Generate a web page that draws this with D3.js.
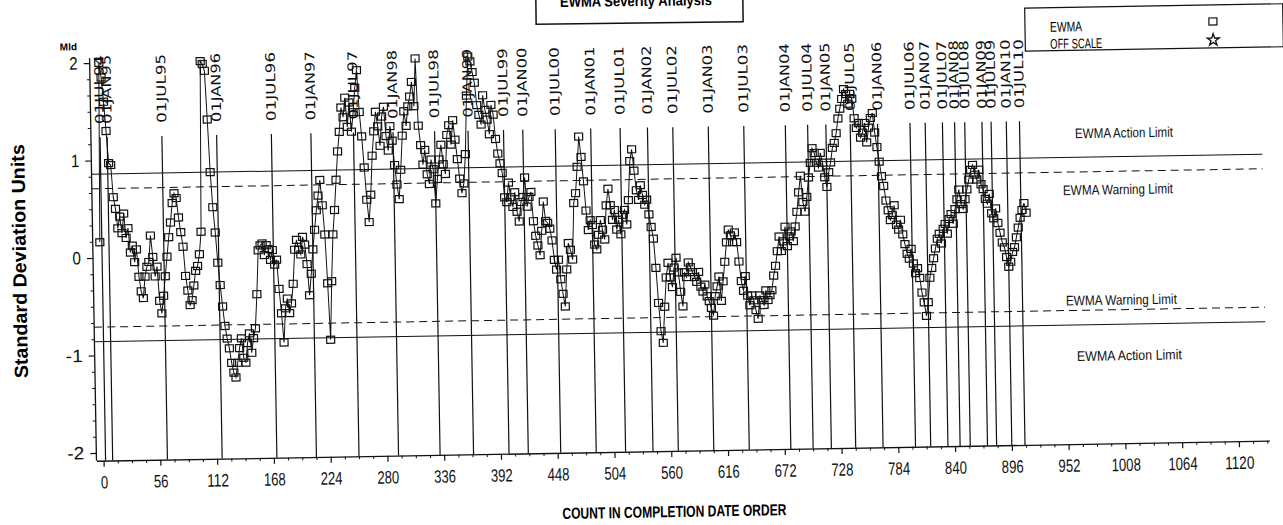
<!DOCTYPE html>
<html><head><meta charset="utf-8">
<script src="https://cdn.jsdelivr.net/npm/d3@7"></script>
<style>body{margin:0;background:#fff}svg{display:block}</style>
</head><body>
<svg id="c" width="1283" height="525"></svg>
<script>
// ---- data ----
const countStep = 2; // EWMA value read every 2nd count in completion order
const ewmaValues = [
 0.16, 2.0, 1.85, 1.6, 1.3, 0.97, 0.95, 0.62, 0.5, 0.3,
 0.42, 0.25, 0.45, 0.2, 0.3, 0.05, 0.12, -0.05, 0.08, -0.2,
 -0.35, -0.42, -0.2, -0.1, -0.05, 0.22, 0.0, -0.2, -0.1, -0.45,
 -0.58, -0.4, -0.2, 0.0, 0.2, 0.35, 0.55, 0.65, 0.6, 0.4,
 0.25, 0.1, -0.2, -0.35, -0.5, -0.45, -0.3, -0.15, -0.1, 0.02,
 0.25, 2.0, 1.97, 1.9, 1.4, 0.86, 0.5, 0.24, -0.07, -0.3,
 -0.52, -0.72, -0.85, -0.95, -1.1, -1.2, -1.25, -1.1, -0.95, -0.85,
 -1.05, -1.1, -0.9, -0.8, -1.0, -0.85, -0.75, -0.4, 0.05, 0.1,
 0.12, 0.0, 0.1, 0.06, -0.05, 0.05, -0.1, -0.05, -0.35, -0.6,
 -0.9, -0.55, -0.45, -0.6, -0.5, -0.3, 0.05, 0.15, 0.05, 0.0,
 0.18, 0.1, -0.1, -0.42, -0.2, 0.05, 0.25, 0.45, 0.6, 0.76,
 0.5, 0.2, -0.3, -0.88, -0.28, 0.2, 0.45, 0.76, 1.05, 1.25,
 1.5, 1.4, 1.6, 1.3, 1.55, 1.25, 1.45, 1.7, 1.88, 1.45,
 1.2, 0.88, 0.55, 0.32, 0.6, 1.0, 1.25, 1.45, 1.3, 1.1,
 1.4, 1.5, 1.2, 1.05, 1.3, 1.15, 0.9, 0.7, 0.55, 0.85,
 1.2, 1.45, 1.3, 1.5, 1.6, 1.75, 1.5, 1.99, 1.3, 1.1,
 0.9, 1.05, 0.8, 0.7, 0.95, 0.85, 0.5, 0.75, 0.95, 1.1,
 0.9, 0.8, 1.2, 1.3, 1.1, 1.35, 1.15, 0.95, 0.75, 0.6,
 0.7, 1.0, 1.6, 2.0, 1.95, 1.84, 1.73, 1.5, 1.4, 1.3,
 1.6, 1.45, 1.35, 1.2, 1.5, 1.4, 1.15, 1.0, 0.9, 0.8,
 0.55, 0.5, 0.7, 0.55, 0.45, 0.6, 0.4, 0.3, 0.5, 0.55,
 0.75, 0.45, 0.55, 0.6, 0.3, 0.15, 0.05, -0.05, 0.2, 0.5,
 0.3, 0.28, 0.22, 0.1, -0.1, -0.2, -0.1, -0.3, -0.45, -0.58,
 -0.2, 0.07, 0.0, -0.1, 0.48, 0.58, 0.85, 1.16, 0.95, 0.7,
 0.4, 0.2, 0.3, 0.25, 0.05, 0.0, 0.15, 0.3, 0.2, 0.1,
 0.45, 0.62, 0.45, 0.3, 0.4, 0.2, 0.3, 0.15, 0.35, 0.4,
 0.25, 0.5, 0.9, 1.02, 0.8, 0.6, 0.5, 0.65, 0.55, 0.45,
 0.5, 0.35, 0.22, 0.1, -0.2, -0.56, -0.85, -0.97, -0.6, -0.3,
 -0.15, -0.3, -0.4, -0.2, -0.1, -0.25, -0.45, -0.6, -0.25, -0.3,
 -0.15, -0.2, -0.25, -0.3, -0.35, -0.25, -0.4, -0.45, -0.38, -0.5,
 -0.55, -0.62, -0.7, -0.5, -0.4, -0.3, -0.55, -0.35, -0.15, 0.05,
 0.18, 0.12, 0.05, 0.15, 0.05, -0.15, -0.35, -0.45, -0.3, -0.5,
 -0.6, -0.5, -0.55, -0.65, -0.74, -0.5, -0.55, -0.6, -0.45, -0.55,
 -0.5, -0.45, -0.3, -0.2, -0.05, 0.1, -0.05, 0.05, 0.2, 0.0,
 0.1, 0.15, 0.05, 0.2, 0.35, 0.55, 0.72, 0.45, 0.35, 0.5,
 0.7, 0.85, 1.0, 0.95, 0.85, 0.8, 0.95, 0.85, 0.7, 0.6,
 0.75, 0.85, 1.0, 1.05, 1.15, 1.3, 1.4, 1.5, 1.6, 1.55,
 1.45, 1.55, 1.5, 1.3, 1.2, 1.25, 1.1, 1.15, 1.25, 1.05,
 1.2, 1.3, 1.35, 1.15, 1.0, 0.85, 0.7, 0.6, 0.45, 0.35,
 0.25, 0.3, 0.4, 0.2, 0.15, 0.25, 0.1, 0.0, -0.1, -0.15,
 -0.05, -0.2, -0.3, -0.25, -0.35, -0.5, -0.6, -0.74, -0.6, -0.35,
 -0.25, -0.15, -0.05, 0.05, 0.1, 0.0, 0.15, 0.2, 0.1, 0.25,
 0.3, 0.2, 0.35, 0.45, 0.55, 0.4, 0.35, 0.45, 0.55, 0.65,
 0.75, 0.8, 0.7, 0.65, 0.75, 0.6, 0.55, 0.45, 0.4, 0.5,
 0.3, 0.25, 0.35, 0.2, 0.1, 0.0, -0.05, -0.15, -0.25, -0.2,
 -0.1, -0.05, 0.05, 0.15, 0.25, 0.33, 0.4, 0.3
];
const dateLabels = ["01JUL94","01JAN95","01JUL95","01JAN96","01JUL96","01JAN97","01JUL97","01JAN98","01JUL98","01JAN99",
 "01JUL99","01JAN00","01JUL00","01JAN01","01JUL01","01JAN02","01JUL02","01JAN03","01JUL03","01JAN04",
 "01JUL04","01JAN05","01JUL05","01JAN06","01JUL06","01JAN07","01JUL07","01JAN08","01JUL08","01JAN09",
 "01JUL09","01JAN10","01JUL10"];
const dateCounts = [2, 9, 63, 117, 171, 210, 252, 291, 332, 365,
 400, 419, 451, 486, 515, 542, 567, 602, 637, 678,
 700, 718, 742, 769, 801, 816, 833, 845, 855, 872,
 881, 896, 909];
const xTicks = [0,56,112,168,224,280,336,392,448,504,560,616,672,728,784,840,896,952,1008,1064,1120];
const yTicks = [-2,-1,0,1,2];
const actionLimit = 0.86;
const warningLimit = 0.71;
const limitLabels = ["EWMA Action Limit","EWMA Warning Limit","EWMA Warning Limit","EWMA Action Limit"];
const legendLabels = ["EWMA","OFF SCALE"];
const titleText = "EWMA Severity Analysis";

// ---- drawing ----
const svg = d3.select("#c");
const x = d3.scaleLinear().domain([-7, 1150]).range([93, 1266]);
const y = d3.scaleLinear().domain([-2, 2]).range([453, 63]);
const yBottom = y(-2.08);
const FONT = "'Liberation Sans', Arial, sans-serif";

const g = svg.append("g").attr("transform", "rotate(-0.98 93 258)");

// limit lines
const limits = [
  {v: actionLimit, dash: null, lab: limitLabels[0], lx: 1077, dy: -19, w: 98},
  {v: warningLimit, dash: "8,5", lab: limitLabels[1], lx: 1064, dy: 23, w: 110},
  {v: -warningLimit, dash: "8,5", lab: limitLabels[2], lx: 1065, dy: -5, w: 111},
  {v: -actionLimit, dash: null, lab: limitLabels[3], lx: 1075, dy: 36, w: 105}
];
limits.forEach(l => {
  g.append("line").attr("x1", x(-7)).attr("x2", x(1148)).attr("y1", y(l.v)).attr("y2", y(l.v))
    .attr("stroke", "#111").attr("stroke-width", 1).attr("stroke-dasharray", l.dash);
  g.append("text").attr("x", l.lx).attr("y", y(l.v) + l.dy).text(l.lab)
    .attr("font-family", FONT).attr("font-size", 14).attr("textLength", l.w)
    .attr("lengthAdjust", "spacingAndGlyphs").attr("fill", "#111");
});

// date reference lines
const lineTop = y(1.24);
dateCounts.forEach((c, i) => {
  g.append("line").attr("x1", x(c)).attr("x2", x(c)).attr("y1", lineTop).attr("y2", yBottom)
    .attr("stroke", "#111").attr("stroke-width", 1.2);
  g.append("text").attr("transform", `translate(${x(c)},${lineTop - 13}) rotate(-90)`)
    .attr("text-anchor", "start").attr("dy", "0.36em").text(dateLabels[i])
    .attr("font-family", "'DejaVu Sans', sans-serif").attr("font-size", 13)
    .attr("textLength", 69).attr("lengthAdjust", "spacingAndGlyphs").attr("fill", "#111");
});

// axes
const xAxis = g.append("g").attr("transform", `translate(0,${yBottom})`)
  .call(d3.axisBottom(x).tickValues(xTicks).tickSize(6).tickSizeOuter(0).tickPadding(9).tickFormat(d => String(d)));
xAxis.select(".domain").attr("stroke", "#111").attr("stroke-width", 1.3);
xAxis.selectAll(".tick line").attr("stroke", "#111").attr("stroke-width", 1.2);
xAxis.selectAll("text").attr("font-family", FONT).attr("font-size", 18).attr("fill", "#111")
  .attr("textLength", d => String(d).length * 7.3).attr("lengthAdjust", "spacingAndGlyphs");
const xMinor = d3.range(0, 1149, 14).filter(v => v % 56 !== 0);
const xm = g.append("g").attr("transform", `translate(0,${yBottom})`)
  .call(d3.axisBottom(x).tickValues(xMinor).tickSize(3).tickFormat(""));
xm.select(".domain").remove();
xm.selectAll(".tick line").attr("stroke", "#111");

const yAxis = g.append("g").attr("transform", `translate(${x(-7)},0)`)
  .call(d3.axisLeft(y).tickValues(yTicks).tickSize(6).tickSizeOuter(0).tickPadding(6).tickFormat(d => String(d)));
yAxis.select(".domain").remove();
yAxis.selectAll(".tick line").attr("stroke", "#111").attr("stroke-width", 1.2);
yAxis.selectAll("text").attr("font-family", FONT).attr("font-size", 18).attr("fill", "#111")
  .attr("textLength", d => String(d).length * 8.5).attr("lengthAdjust", "spacingAndGlyphs");
const yMinor = d3.range(-12, 13).filter(k => k % 6 !== 0).map(k => k / 6);
const ym = g.append("g").attr("transform", `translate(${x(-7)},0)`)
  .call(d3.axisLeft(y).tickValues(yMinor).tickSize(3).tickFormat(""));
ym.select(".domain").remove();
ym.selectAll(".tick line").attr("stroke", "#111");
g.append("line").attr("x1", x(-7)).attr("x2", x(-7)).attr("y1", y(2.05)).attr("y2", yBottom)
  .attr("stroke", "#111").attr("stroke-width", 1.3);

// axis titles
g.append("text").attr("x", 72).attr("y", 50).text("Mld").attr("font-family", FONT)
  .attr("font-weight", "bold").attr("font-size", 10).attr("text-anchor", "middle");
g.append("text").attr("transform", "translate(26,260) rotate(-90)").attr("text-anchor", "middle")
  .text("Standard Deviation Units").attr("font-family", FONT).attr("font-weight", "bold")
  .attr("font-size", 19).attr("textLength", 234).attr("lengthAdjust", "spacingAndGlyphs");
g.append("text").attr("x", 670).attr("y", 527).attr("text-anchor", "middle")
  .text("COUNT IN COMPLETION DATE ORDER").attr("font-family", FONT).attr("font-weight", "bold")
  .attr("font-size", 16).attr("textLength", 224).attr("lengthAdjust", "spacingAndGlyphs");

// series
const pts = ewmaValues.map((v, i) => ({c: i * countStep, v}));
g.append("path").datum(pts).attr("fill", "none").attr("stroke", "#111").attr("stroke-width", 1)
  .attr("d", d3.line().x(d => x(d.c)).y(d => y(d.v)));
g.selectAll("rect.pt").data(pts).join("rect").attr("class", "pt")
  .attr("x", d => x(d.c) - 4).attr("y", d => y(d.v) - 3.5).attr("width", 8).attr("height", 7)
  .attr("fill", "none").attr("stroke", "#111").attr("stroke-width", 1.2);

// title box (cut at top)
const tg = svg.append("g").attr("transform", "rotate(-0.7 640 12)");
tg.append("rect").attr("x", 536).attr("y", -20).attr("width", 207).attr("height", 43)
  .attr("fill", "none").attr("stroke", "#111").attr("stroke-width", 1.5);
tg.append("text").attr("x", 636).attr("y", 6).attr("text-anchor", "middle").text(titleText)
  .attr("font-family", FONT).attr("font-weight", "bold").attr("font-size", 15)
  .attr("textLength", 152).attr("lengthAdjust", "spacingAndGlyphs");

// legend
const lg = svg.append("g").attr("transform", "rotate(-0.98 1152 27)");
lg.append("rect").attr("x", 1025).attr("y", 6).attr("width", 258).attr("height", 43)
  .attr("fill", "#fff").attr("stroke", "#111").attr("stroke-width", 1.2);
lg.append("text").attr("x", 1050).attr("y", 30).text(legendLabels[0]).attr("font-family", FONT)
  .attr("font-size", 14).attr("textLength", 32).attr("lengthAdjust", "spacingAndGlyphs");
lg.append("text").attr("x", 1050).attr("y", 47).text(legendLabels[1]).attr("font-family", FONT)
  .attr("font-size", 14).attr("textLength", 52).attr("lengthAdjust", "spacingAndGlyphs");
lg.append("rect").attr("x", 1209).attr("y", 19).attr("width", 8).attr("height", 7)
  .attr("fill", "none").attr("stroke", "#111").attr("stroke-width", 1.2);
lg.append("path").attr("transform", "translate(1213,41)")
  .attr("d", d3.symbol(d3.symbolStar).size(45)()).attr("fill", "none").attr("stroke", "#111").attr("stroke-width", 1.3);
</script>
</body></html>
